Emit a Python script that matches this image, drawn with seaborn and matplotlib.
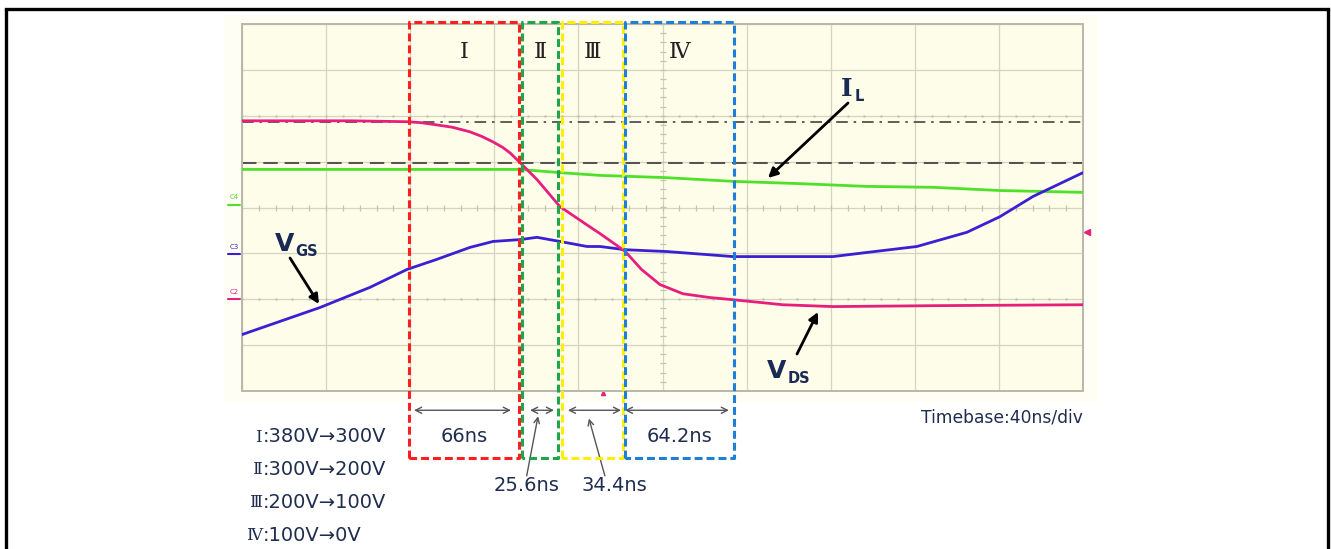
import numpy as np
import pandas as pd
import seaborn as sns
import matplotlib.pyplot as plt
from matplotlib.patches import Rectangle

# time axis in ns (40 ns/div, 10 div), amplitude in screen divisions
vds_t = [0, 27.6, 51.4, 78.5, 85.0, 92.7, 100.0, 108.4, 114.0, 119.4, 124.0, 127.5, 132.2,
         140.3, 151.2, 164.1, 170.3, 182.1, 190.0, 198.8, 209.7, 222.0, 233.5, 257.3,
         281.1, 328.6, 400]
vds_v = [1.89, 1.89, 1.89, 1.87, 1.85, 1.80, 1.75, 1.65, 1.55, 1.43, 1.31, 1.19, 0.98,
         0.61, 0.02, -0.38, -0.57, -0.95, -1.35, -1.68, -1.88, -1.96, -2.01, -2.12,
         -2.16, -2.14, -2.12]

vgs_t = [0, 37.1, 60.9, 78.5, 92.7, 108.4, 119.4, 132.2, 140.3, 151.2, 164.1,
         170.3, 182.1, 202.1, 233.5, 281.1, 297.2, 321.0, 344.8, 360.5, 376.2, 400]
vgs_v = [-2.77, -2.18, -1.74, -1.35, -1.13, -0.87, -0.74, -0.70, -0.65, -0.74, -0.85,
         -0.85, -0.92, -0.96, -1.07, -1.07, -0.98, -0.85, -0.54, -0.20, 0.24, 0.76]

il_t = [0, 132.2, 151.2, 170.3, 202.1, 233.5, 265.4, 297.2, 328.6, 360.5, 400]
il_v = [0.83, 0.83, 0.76, 0.70, 0.65, 0.57, 0.52, 0.46, 0.44, 0.37, 0.33]

# dash-dot and dashed reference levels
ref_levels = [1.87, 0.98]

# phase windows (ns) and their labels
phase_names = ["Ⅰ", "Ⅱ", "Ⅲ", "Ⅳ"]
phase_start = [79.4, 133.2, 152.2, 182.1]
phase_end = [131.7, 150.3, 181.2, 234.0]
phase_colors = ["#ff1f1f", "#1fa64a", "#ffee00", "#1f7fd6"]
span_start = [81.8, 137.0, 155.0, 182.1]
span_end = [127.9, 148.4, 180.3, 231.6]
durations = ["66ns", "25.6ns", "34.4ns", "64.2ns"]

legend_num = ["Ⅰ", "Ⅱ", "Ⅲ", "Ⅳ"]
legend_txt = [":380V→300V", ":300V→200V", ":200V→100V", ":100V→0V"]

W, H = 1331, 549
sns.set_style("white")
plt.rcParams['font.family'] = ['DejaVu Sans', 'Noto Sans CJK SC']
fig = plt.figure(figsize=(W / 100, H / 100), dpi=100)

# background: outer frame and scope bezel
bg = fig.add_axes([0, 0, 1, 1], zorder=-1)
bg.set_xlim(0, W)
bg.set_ylim(H, 0)
bg.axis('off')
bg.add_patch(Rectangle((224, 15), 874, 387, facecolor='#fefef5', edgecolor='none'))
bg.plot([6, 6], [9, H], color='black', lw=2.4, solid_capstyle='butt')
bg.plot([1328, 1328], [9, H], color='black', lw=2.4, solid_capstyle='butt')
bg.plot([6, 1328], [9, 9], color='black', lw=2.4, solid_capstyle='projecting')

# scope screen
ax = fig.add_axes([242 / W, 1 - 391 / H, 841 / W, 367 / H], zorder=1)
ax.set_facecolor('#fdfdea')
ax.set_xlim(0, 400)
ax.set_ylim(-4, 4)
ax.set_xticks(np.arange(0, 401, 40))
ax.set_yticks(np.arange(-4, 5, 1))
ax.grid(True, color='#d4d4c2', lw=0.9)
ax.tick_params(length=0, labelbottom=False, labelleft=False)
for s in ax.spines.values():
    s.set_color('#b8b8a8')
    s.set_linewidth(1.4)

grid_col = '#c4c4b2'
minor_x = np.arange(0, 401, 8)
minor_y = np.arange(-4, 4.01, 0.2)
ax.plot(minor_x, np.zeros_like(minor_x), ls='none', marker='|', ms=5, color=grid_col, mew=0.9)
ax.plot(np.full_like(minor_y, 200), minor_y, ls='none', marker='_', ms=5, color=grid_col, mew=0.9)
for yy in (2.5, -2.5):
    ax.plot(minor_x, np.full_like(minor_x, yy), ls='none', marker='.', ms=1.6, color=grid_col)

ax.axhline(ref_levels[0], color='#444444', lw=1.2, dashes=(7, 3.5, 1.5, 3.5), zorder=2)
ax.axhline(ref_levels[1], color='#444444', lw=1.3, dashes=(8, 3.8), zorder=2)

traces = pd.concat([
    pd.DataFrame({'t': il_t, 'v': il_v, 'ch': 'IL'}),
    pd.DataFrame({'t': vgs_t, 'v': vgs_v, 'ch': 'VGS'}),
    pd.DataFrame({'t': vds_t, 'v': vds_v, 'ch': 'VDS'}),
])
sns.lineplot(data=traces, x='t', y='v', hue='ch', sort=False, estimator=None,
             palette={'IL': '#4fe02a', 'VGS': '#3a20d2', 'VDS': '#e81e7c'},
             lw=2.0, legend=False, ax=ax, zorder=3)
ax.set_xlabel('')
ax.set_ylabel('')

ax.plot([401.9], [-0.54], marker='<', ms=4, color='#e81e7c', clip_on=False)
ax.plot([171.7], [-4.05], marker='^', ms=3, color='#e81e7c', clip_on=False)

# phase boxes, spans and durations
box_top, box_bot = 4.05, -5.45
for name, x0, x1, c in zip(phase_names, phase_start, phase_end, phase_colors):
    ax.plot([x0, x0, x1, x1, x0], [box_bot, box_top, box_top, box_bot, box_bot],
            color=c, lw=2.2, dashes=(2.6, 1.3), clip_on=False, zorder=4)
    ax.text((x0 + x1) / 2, 3.4, name, ha='center', va='center', fontsize=16,
            color='#222222', family=['DejaVu Serif', 'Noto Sans CJK SC'], clip_on=False)

for a, b in zip(span_start, span_end):
    ax.annotate('', xy=(a, -4.42), xytext=(b, -4.42), annotation_clip=False,
                arrowprops=dict(arrowstyle='<->', lw=1, color='#555555', mutation_scale=11,
                                shrinkA=0, shrinkB=0))

txt_col = '#1f2d4f'
ax.text((phase_start[0] + phase_end[0]) / 2, -5.0, durations[0], ha='center', va='center',
        fontsize=14, color=txt_col, clip_on=False)
ax.text((phase_start[3] + phase_end[3]) / 2, -5.0, durations[3], ha='center', va='center',
        fontsize=14, color=txt_col, clip_on=False)
ax.text(135.4, -6.05, durations[1], ha='center', va='center', fontsize=14, color=txt_col, clip_on=False)
ax.text(177.0, -6.05, durations[2], ha='center', va='center', fontsize=14, color=txt_col, clip_on=False)
ax.annotate('', xy=(140.8, -4.55), xytext=(135.4, -5.85), annotation_clip=False,
            arrowprops=dict(arrowstyle='->', lw=1, color='#555555', mutation_scale=10,
                            shrinkA=0, shrinkB=0))
ax.annotate('', xy=(165.0, -4.6), xytext=(172.6, -5.85), annotation_clip=False,
            arrowprops=dict(arrowstyle='->', lw=1, color='#555555', mutation_scale=10,
                            shrinkA=0, shrinkB=0))

# overlay for labels
ov = fig.add_axes([0, 0, 1, 1], zorder=3)
ov.set_xlim(0, W)
ov.set_ylim(H, 0)
ov.axis('off')
ov.patch.set_alpha(0)

lab_col = '#1b2a55'
arrow = dict(arrowstyle='-|>', lw=2, color='black', mutation_scale=14, shrinkA=0, shrinkB=0)
ov.text(275, 251, 'V', fontsize=18, fontweight='bold', color=lab_col, va='baseline')
ov.text(295, 256, 'GS', fontsize=10.5, fontweight='bold', color=lab_col, va='baseline')
ov.annotate('', xy=(319, 304), xytext=(290, 258), arrowprops=arrow)

ov.text(841, 96, 'I', fontsize=18, fontweight='bold', color=lab_col, va='baseline',
        family='DejaVu Serif')
ov.text(855, 101, 'L', fontsize=10.5, fontweight='bold', color=lab_col, va='baseline')
ov.annotate('', xy=(768, 178), xytext=(848, 103), arrowprops=arrow)

ov.text(767, 378, 'V', fontsize=18, fontweight='bold', color=lab_col, va='baseline')
ov.text(788, 383, 'DS', fontsize=10.5, fontweight='bold', color=lab_col, va='baseline')
ov.annotate('', xy=(818, 312), xytext=(797, 354), arrowprops=arrow)

ov.text(1083, 418, 'Timebase:40ns/div', fontsize=12.3, color=txt_col, ha='right', va='center')

for i, (n, t) in enumerate(zip(legend_num, legend_txt)):
    yy = 437 + i * 32.7
    ov.text(262, yy, n, fontsize=12, color=txt_col, ha='right', va='center',
            family=['DejaVu Serif', 'Noto Sans CJK SC'])
    ov.text(263, yy, t, fontsize=14, color=txt_col, ha='left', va='center')

for lbl, yt, yb, c in [('C4', 197, 205, '#4fe02a'), ('C3', 247, 254, '#3a20d2'),
                       ('C2', 292, 299, '#e81e7c')]:
    ov.text(234, yt, lbl, fontsize=5, color=c, ha='center', va='center')
    ov.plot([228, 240], [yb, yb], color=c, lw=1.5)

fig.savefig('out.png', dpi=100)
